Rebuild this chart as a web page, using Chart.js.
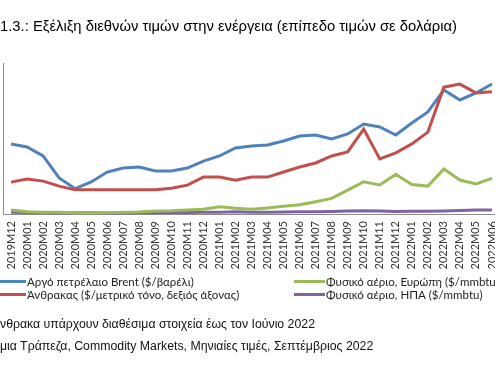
<!DOCTYPE html>
<html>
<head>
<meta charset="utf-8">
<script src="https://cdn.jsdelivr.net/npm/chart.js@4.4.1/dist/chart.umd.min.js"></script>
<style>
  html, body { margin: 0; padding: 0; background: #fff; width: 495px; height: 378px; overflow: hidden; }
  #wrap { position: absolute; left: 0; top: 0; width: 520px; height: 378px; }
  .txt { position: absolute; white-space: nowrap; color: #000; }
  #title { left: 0; top: 18px; font: 14.8px "Liberation Sans", Arial, sans-serif; }
  .note { left: 0; font: 12.3px "Liberation Sans", Arial, sans-serif; color: #111; }
  .lg { position: absolute; white-space: nowrap; font: 11.5px Lato, "Open Sans", sans-serif; color: #222; display: flex; align-items: center; }
  .lg i { display: inline-block; width: 26px; height: 3px; margin-right: 1px; }
</style>
</head>
<body>
<div id="wrap"><canvas id="c" width="520" height="378"></canvas></div>
<div class="txt" id="title">1.3.: Εξέλιξη διεθνών τιμών στην ενέργεια (επίπεδο τιμών σε δολάρια)</div>
<div id="legend"></div>
<div class="txt note" style="top:317px">νθρακα υπάρχουν διαθέσιμα στοιχεία έως τον Ιούνιο 2022</div>
<div class="txt note" style="top:339px">μια Τράπεζα, Commodity Markets, Μηνιαίες τιμές, Σεπτέμβριος 2022</div>
<script>
const categories = ["2019M12","2020M01","2020M02","2020M03","2020M04","2020M05","2020M06","2020M07","2020M08","2020M09","2020M10","2020M11","2020M12","2021M01","2021M02","2021M03","2021M04","2021M05","2021M06","2021M07","2021M08","2021M09","2021M10","2021M11","2021M12","2022M01","2022M02","2022M03","2022M04","2022M05","2022M06"];
const brent = [64.9,62.1,53.8,33.4,23.5,29.7,38.9,42.6,43.6,39.9,39.9,42.6,49.1,53.8,61.2,63.0,64.0,67.7,72.3,73.2,69.5,74.2,83.4,80.7,73.2,84.4,94.6,115.0,105.7,112.2,120.5];
const coal = [95,104,98,83,72,72,72,72,72,72,77,86,110,110,101,110,110,125,140,152,173,185,253,164,182,209,244,378,387,361,364];
const gasEurope = [3.7,2.1,1.6,1.6,1.2,1.0,1.2,1.6,1.9,2.8,3.0,3.7,4.4,6.8,5.3,4.4,5.6,7.1,8.6,11.4,14.5,22.2,29.9,26.9,36.8,27.4,25.9,41.7,31.5,27.8,33.1];
const gasUS = [1.6,1.4,1.3,1.2,1.1,1.1,1.0,1.1,1.3,1.2,1.4,1.5,1.6,1.7,2.0,1.7,1.7,1.8,2.0,2.2,2.4,2.7,2.9,2.7,2.3,2.5,2.6,2.8,3.3,3.7,3.6];
const seriesNames = ["Αργό πετρέλαιο Brent ($/βαρέλι)","Άνθρακας ($/μετρικό τόνο, δεξιός άξονας)","Φυσικό αέριο, Ευρώπη ($/mmbtu)","Φυσικό αέριο, ΗΠΑ ($/mmbtu)"];
const colors = ["#4F81BD","#C0504D","#9BBB59","#8064A2"];

const datasets = [
  {label: seriesNames[0], data: brent, borderColor: colors[0], yAxisID: 'y', order: 1},
  {label: seriesNames[1], data: coal, borderColor: colors[1], yAxisID: 'y1', order: 0},
  {label: seriesNames[2], data: gasEurope, borderColor: colors[2], yAxisID: 'y', order: 2},
  {label: seriesNames[3], data: gasUS, borderColor: colors[3], yAxisID: 'y', order: 3}
].map(d => Object.assign(d, {borderWidth: 3, pointRadius: 0, tension: 0, fill: false, clip: 4}));

const chart = new Chart(document.getElementById('c'), {
  type: 'line',
  data: {labels: categories, datasets},
  options: {
    responsive: false,
    animation: false,
    layout: {padding: {top: 63, left: 3, right: 20, bottom: 104}},
    plugins: {legend: {display: false}, tooltip: {enabled: false}},
    scales: {
      x: {
        offset: true,
        grid: {display: false, drawTicks: false},
        border: {display: true, color: '#8c8c8c', width: 1},
        ticks: {autoSkip: false, minRotation: 90, maxRotation: 90, padding: 7, color: '#333',
                font: {family: 'Lato, "Liberation Sans", sans-serif', size: 11}},
        afterFit: s => { s.height = 60; }
      },
      y: {
        min: 0, max: 140,
        grid: {display: false, drawTicks: false},
        border: {display: true, color: '#8c8c8c', width: 1},
        ticks: {display: false},
        afterFit: s => { s.width = 0; }
      },
      y1: {
        min: 0, max: 450, position: 'right', display: false
      }
    }
  }
});

// HTML legend built from the chart's datasets (two columns)
const lg = document.getElementById('legend');
const pos = [[0, 275], [0, 288], [294, 275], [294, 288]];
chart.data.datasets.forEach((ds, i) => {
  const d = document.createElement('div');
  d.className = 'lg';
  d.style.left = pos[i][0] + 'px';
  d.style.top = pos[i][1] + 'px';
  d.style.height = '13px';
  const sw = document.createElement('i');
  sw.style.background = ds.borderColor;
  if (i >= 2) sw.style.width = '31px';
  d.appendChild(sw);
  d.appendChild(document.createTextNode(ds.label));
  lg.appendChild(d);
});
</script>
</body>
</html>
